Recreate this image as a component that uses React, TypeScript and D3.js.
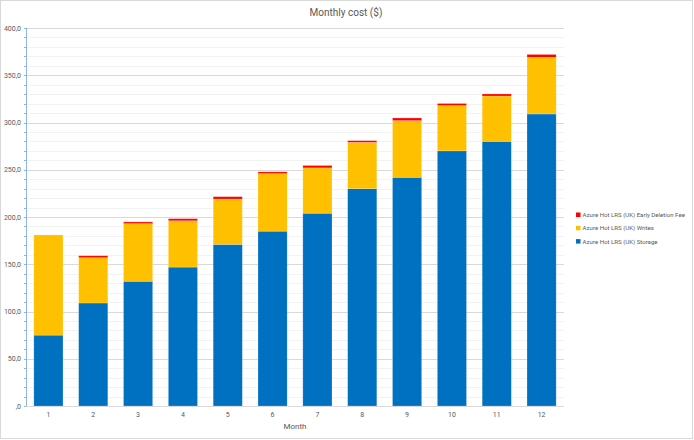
import React, { useEffect, useRef } from 'react';
import * as d3 from 'd3';

const months = ['1', '2', '3', '4', '5', '6', '7', '8', '9', '10', '11', '12'];
const storage = [75, 109, 132, 147, 171, 185, 204, 230, 242, 270, 280, 309];
const writes = [106, 48, 61, 49, 48, 61, 48, 49, 60, 48, 48, 60];
const earlyDeletion = [0, 2, 1.8, 2.2, 2.5, 1.8, 2.5, 1.8, 2.8, 2.1, 2.2, 3.0];
const seriesNames = [
  'Azure Hot LRS (UK) Storage',
  'Azure Hot LRS (UK) Writes',
  'Azure Hot LRS (UK) Early Deletion Fee',
];
const seriesColors = ['#0070c0', '#ffc000', '#ff0000'];
const yTicks = [0, 50, 100, 150, 200, 250, 300, 350, 400];

const W = 694;
const H = 440;

const App: React.FC = () => {
  const svgRef = useRef<SVGSVGElement>(null);

  useEffect(() => {
    const svg = d3.select(svgRef.current);
    svg.selectAll('*').remove();

    const font = 'Roboto, "Liberation Sans", sans-serif';
    const plot = { left: 26, right: 564, top: 28, bottom: 406 };

    // outer chart border
    svg.append('rect')
      .attr('x', 0.5).attr('y', 0.5)
      .attr('width', 692).attr('height', 438)
      .attr('fill', '#fff')
      .attr('stroke', '#d9d9d9');

    const x = d3.scaleBand<string>()
      .domain(months)
      .range([plot.left, plot.right])
      .paddingInner(0.35)
      .paddingOuter(0.175);

    const y = d3.scaleLinear()
      .domain([0, 400])
      .range([plot.bottom, plot.top]);

    // minor grid lines every 10
    const minor = d3.range(10, 400, 10).filter(v => v % 50 !== 0);
    svg.append('g')
      .selectAll('line')
      .data(minor)
      .enter()
      .append('line')
      .attr('x1', plot.left).attr('x2', plot.right)
      .attr('y1', d => Math.round(y(d)) + 0.5)
      .attr('y2', d => Math.round(y(d)) + 0.5)
      .attr('stroke', '#f2f2f2');

    // major grid lines
    svg.append('g')
      .selectAll('line')
      .data(yTicks.slice(1))
      .enter()
      .append('line')
      .attr('x1', plot.left).attr('x2', plot.right)
      .attr('y1', d => Math.round(y(d)) + 0.5)
      .attr('y2', d => Math.round(y(d)) + 0.5)
      .attr('stroke', '#d9d9d9');

    // stacked bars
    const rows = months.map((m, i) => ({
      month: m,
      storage: storage[i],
      writes: writes[i],
      early: earlyDeletion[i],
    }));
    const stack = d3.stack<any>().keys(['storage', 'writes', 'early']);
    const layers = stack(rows);

    svg.append('g')
      .selectAll('g')
      .data(layers)
      .enter()
      .append('g')
      .attr('fill', (_, i) => seriesColors[i])
      .selectAll('rect')
      .data(d => d)
      .enter()
      .append('rect')
      .attr('x', d => x(d.data.month) || 0)
      .attr('width', x.bandwidth())
      .attr('y', d => y(d[1]))
      .attr('height', d => Math.max(0, y(d[0]) - y(d[1])))
      .attr('stroke', '#fff')
      .attr('stroke-opacity', 0.35)
      .attr('stroke-width', 0.6);

    // x axis line
    svg.append('line')
      .attr('x1', plot.left).attr('x2', plot.right)
      .attr('y1', plot.bottom + 0.5).attr('y2', plot.bottom + 0.5)
      .attr('stroke', '#d9d9d9');

    // y axis line with minor ticks
    const yAxis = svg.append('g');
    yAxis.append('line')
      .attr('x1', plot.left + 0.5).attr('x2', plot.left + 0.5)
      .attr('y1', plot.top).attr('y2', plot.bottom)
      .attr('stroke', '#8eb4e3');
    yAxis.selectAll('line.tick')
      .data(d3.range(0, 410, 10))
      .enter()
      .append('line')
      .attr('class', 'tick')
      .attr('x1', plot.left - 2).attr('x2', plot.left)
      .attr('y1', d => Math.round(y(d)) + 0.5)
      .attr('y2', d => Math.round(y(d)) + 0.5)
      .attr('stroke', '#8eb4e3');

    // y tick labels
    svg.append('g')
      .selectAll('text')
      .data(yTicks)
      .enter()
      .append('text')
      .attr('x', plot.left - 5)
      .attr('y', d => y(d) + 2.5)
      .attr('text-anchor', 'end')
      .style('font-family', font)
      .style('font-size', '7px')
      .style('fill', '#595959')
      .text(d => (d === 0 ? ',0' : `${d},0`));

    // x tick labels
    svg.append('g')
      .selectAll('text')
      .data(months)
      .enter()
      .append('text')
      .attr('x', d => (x(d) || 0) + x.bandwidth() / 2)
      .attr('y', 417)
      .attr('text-anchor', 'middle')
      .style('font-family', font)
      .style('font-size', '7px')
      .style('fill', '#595959')
      .text(d => d);

    // axis title
    svg.append('text')
      .attr('x', 295)
      .attr('y', 429)
      .attr('text-anchor', 'middle')
      .style('font-family', font)
      .style('font-size', '8px')
      .style('fill', '#595959')
      .text('Month');

    // chart title
    svg.append('text')
      .attr('x', 346)
      .attr('y', 16)
      .attr('text-anchor', 'middle')
      .style('font-family', font)
      .style('font-size', '10px')
      .style('fill', '#595959')
      .text('Monthly cost ($)');

    // legend (top entry is the top of the stack)
    const legendOrder = [2, 1, 0];
    const legend = svg.append('g').attr('transform', 'translate(576, 215)');
    legendOrder.forEach((s, i) => {
      legend.append('rect')
        .attr('x', 0)
        .attr('y', i * 13.3 - 2.5)
        .attr('width', 4.5)
        .attr('height', 4.5)
        .attr('fill', seriesColors[s]);
      legend.append('text')
        .attr('x', 6.5)
        .attr('y', i * 13.3 + 2)
        .style('font-family', font)
        .style('font-size', '6.1px')
        .style('fill', '#595959')
        .text(seriesNames[s]);
    });
  }, []);

  return (
    <svg
      ref={svgRef}
      width={W}
      height={H}
      style={{ position: 'absolute', left: 0, top: 0, background: '#fff' }}
    />
  );
};

export default App;
